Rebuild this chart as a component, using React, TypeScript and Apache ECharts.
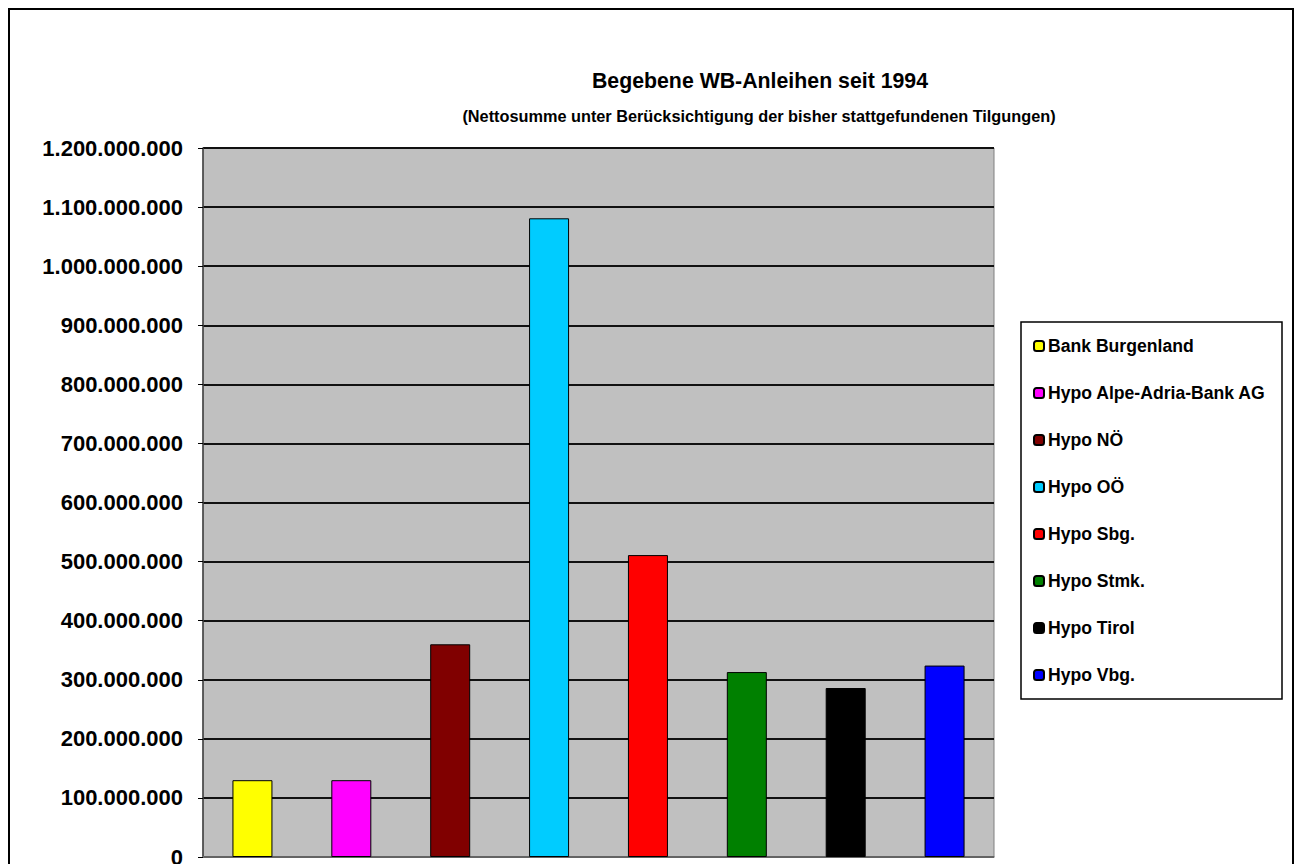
import React, { useEffect, useRef } from "react";
import * as echarts from "echarts";

const categories = [
  "Bank Burgenland",
  "Hypo Alpe-Adria-Bank AG",
  "Hypo NÖ",
  "Hypo OÖ",
  "Hypo Sbg.",
  "Hypo Stmk.",
  "Hypo Tirol",
  "Hypo Vbg.",
];
const values = [130000000, 130000000, 360000000, 1081000000, 511000000, 313000000, 286000000, 324000000];
const colors = ["#FFFF00", "#FF00FF", "#800000", "#00CCFF", "#FF0000", "#008000", "#000000", "#0000FF"];
const titleText = "Begebene WB-Anleihen seit 1994";
const subtitleText = "(Nettosumme unter Berücksichtigung der bisher stattgefundenen Tilgungen)";
const yMin = 0;
const yMax = 1200000000;
const yInterval = 100000000;

const FONT = "'Liberation Sans Narrow', 'Arial Narrow', 'Liberation Sans', Arial, sans-serif";

function fmt(v: number): string {
  return String(Math.round(v)).replace(/\B(?=(\d{3})+(?!\d))/g, ".");
}

export default function App() {
  const ref = useRef<HTMLDivElement>(null);
  useEffect(() => {
    if (!ref.current) return;
    const chart = echarts.init(ref.current, null, { renderer: "svg" });
    const series = categories.map((name, i) => ({
      name,
      type: "bar",
      barWidth: 40,
      barGap: "-100%",
      itemStyle: { color: colors[i], borderColor: "#000", borderWidth: 1 },
      data: categories.map((_, j) => (j === i ? values[i] : null)),
    }));
    chart.setOption({
      animation: false,
      backgroundColor: "#fff",
      title: [
        {
          text: titleText,
          left: 755,
          top: 65,
          textAlign: "center",
          textStyle: { fontFamily: FONT, fontSize: 21.3, fontWeight: "bold", color: "#000" },
        },
        {
          text: subtitleText,
          left: 754,
          top: 103,
          textAlign: "center",
          textStyle: { fontFamily: FONT, fontSize: 16.3, fontWeight: "bold", color: "#000" },
        },
      ],
      grid: {
        left: 203,
        right: 302,
        top: 148,
        bottom: 7,
        outerBoundsMode: "none",
        containLabel: false,
        show: true,
        backgroundColor: "#C0C0C0",
        borderColor: "#808080",
        borderWidth: 1,
      },
      legend: {
        orient: "vertical",
        left: 1033,
        top: 336,
        padding: 0,
        itemWidth: 10,
        itemHeight: 10,
        itemGap: 27,
        data: categories,
        textStyle: { fontFamily: FONT, fontSize: 17.6, fontWeight: "bold", color: "#000", lineHeight: 20, padding: [0, 0, 0, -1] },
      },
      xAxis: {
        type: "category",
        data: categories,
        axisLabel: { show: false },
        axisTick: { show: false },
        axisLine: { lineStyle: { color: "#808080", width: 1.5 } },
      },
      yAxis: {
        type: "value",
        min: yMin,
        max: yMax,
        interval: yInterval,
        axisLine: { show: true, lineStyle: { color: "#404040", width: 1.5 } },
        axisTick: { show: true, length: 5, lineStyle: { color: "#000" } },
        splitLine: { lineStyle: { color: "#111", width: 1.8 } },
        axisLabel: {
          formatter: (v: number) => fmt(v),
          margin: 20,
          fontFamily: FONT,
          fontSize: 22,
          fontWeight: "bold",
          color: "#000",
        },
      },
      graphic: [
        {
          type: "rect",
          shape: { x: 9, y: 9, width: 1284, height: 900 },
          style: { fill: "none", stroke: "#000", lineWidth: 2 },
          silent: true,
        },
        {
          type: "rect",
          shape: { x: 1021, y: 322, width: 261, height: 377 },
          style: { fill: "none", stroke: "#000", lineWidth: 1.5 },
          silent: true,
        },
      ],
      series,
    });
    return () => chart.dispose();
  }, []);
  return (
    <div
      ref={ref}
      style={{ position: "fixed", left: 0, top: 0, width: 1296, height: 864, background: "#fff" }}
    />
  );
}
